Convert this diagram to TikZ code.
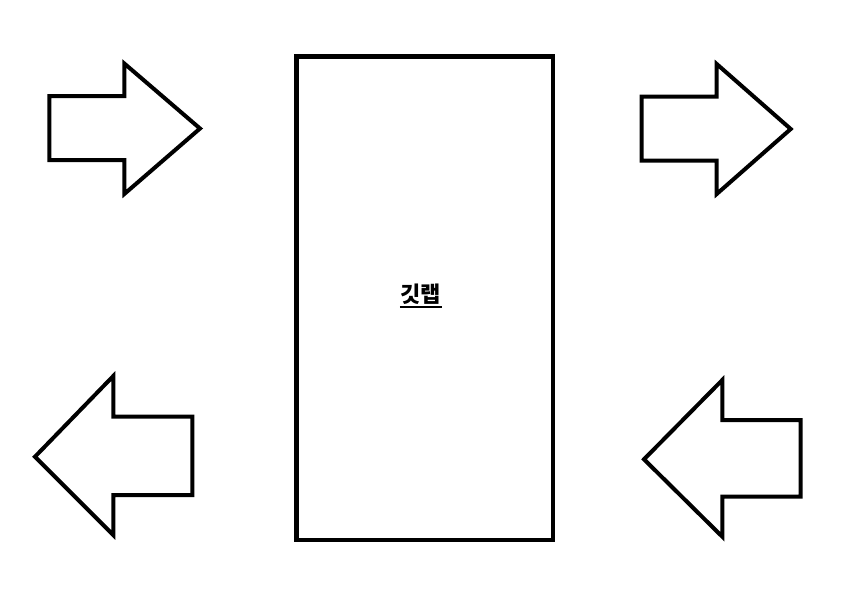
\documentclass[tikz,border=0pt]{standalone}
\usepackage{fontspec}
\newfontfamily\kr{Noto Sans CJK KR}
\begin{document}
\begin{tikzpicture}[x=1pt,y=-1pt,
  shapeline/.style={draw=black,line width=4pt,line join=miter,fill=white},
  boxline/.style={draw=black,line width=4.5pt},
  lbl/.style={font=\kr\bfseries\fontsize{22}{26}\selectfont,inner sep=0pt,anchor=base}]
\useasboundingbox[fill=white] (0,0) rectangle (864,590);
% central box
\node[boxline,minimum width=256.5pt,minimum height=483.5pt,inner sep=0pt] (box) at (424.75,298.25) {};
% label
\node[lbl] (label) at (420.8,302) {깃랩};
\coordinate (ul1) at ([yshift=-5pt]label.base west);
\coordinate (ul2) at ([yshift=-5pt]label.base east);
\draw[line width=1.8pt] ([xshift=-0.5pt]ul1) -- ([xshift=0.5pt]ul2);
% top-left arrow (right pointing)
\draw[shapeline] (49.3,96) -- (124.3,96) -- (124.3,63.5) -- (200,128.5) -- (124.3,194) -- (124.3,160) -- (49.3,160) -- cycle;
% top-right arrow (right pointing)
\draw[shapeline] (641.7,96.7) -- (716.7,96.7) -- (716.7,64) -- (790.7,129) -- (716.7,194) -- (716.7,160.7) -- (641.7,160.7) -- cycle;
% bottom-left arrow (left pointing)
\draw[shapeline] (192.3,416.7) -- (113.3,416.7) -- (113.3,376) -- (35,456.7) -- (113.3,535) -- (113.3,495) -- (192.3,495) -- cycle;
% bottom-right arrow (left pointing)
\draw[shapeline] (800.7,420) -- (722.3,420) -- (722.3,380) -- (644,459.3) -- (722.3,536.7) -- (722.3,496.7) -- (800.7,496.7) -- cycle;
\end{tikzpicture}
\end{document}
